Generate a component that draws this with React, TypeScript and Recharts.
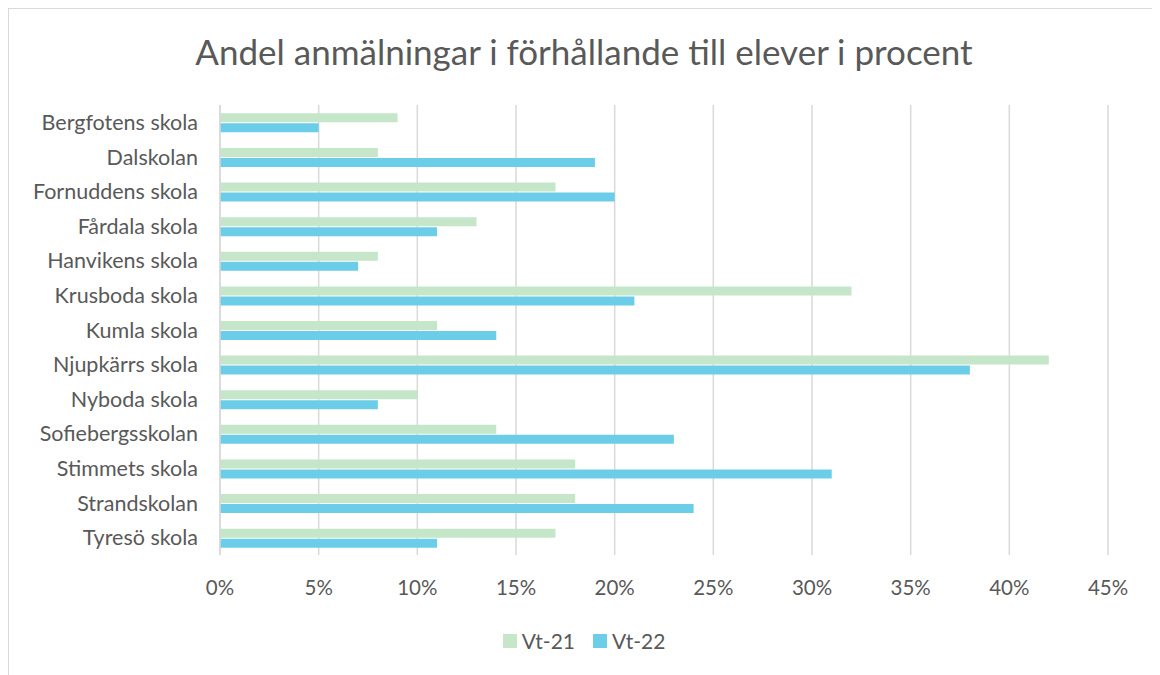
import React from "react";
import {
  Bar,
  BarChart,
  CartesianGrid,
  XAxis,
  YAxis,
} from "recharts";

const schools = [
  "Bergfotens skola",
  "Dalskolan",
  "Fornuddens skola",
  "Fårdala skola",
  "Hanvikens skola",
  "Krusboda skola",
  "Kumla skola",
  "Njupkärrs skola",
  "Nyboda skola",
  "Sofiebergsskolan",
  "Stimmets skola",
  "Strandskolan",
  "Tyresö skola",
];

const vt21 = [9, 8, 17, 13, 8, 32, 11, 42, 10, 14, 18, 18, 17];
const vt22 = [5, 19, 20, 11, 7, 21, 14, 38, 8, 23, 31, 24, 11];

const xTicks = [0, 5, 10, 15, 20, 25, 30, 35, 40, 45];

const GREEN = "#c5e6c9";
const BLUE = "#6bcde8";
const TEXT = "#595959";
const GRID = "#d9d9d9";
const FONT = "Lato, 'Open Sans', sans-serif";

const data = schools.map((name, i) => ({ name, vt21: vt21[i], vt22: vt22[i] }));

export default function App() {
  return (
    <div
      style={{
        position: "relative",
        width: 1150,
        height: 668,
        border: `1px solid ${GRID}`,
        background: "#fff",
        fontFamily: FONT,
      }}
    >
      <div
        style={{
          position: "absolute",
          top: 21,
          left: 0,
          width: 1150,
          textAlign: "center",
          fontSize: 35,
          color: TEXT,
          lineHeight: "42px",
        }}
      >
        Andel anmälningar i förhållande till elever i procent
      </div>
      <BarChart
        width={1150}
        height={600}
        layout="vertical"
        data={data}
        margin={{ top: 96, right: 51, bottom: 24, left: 0 }}
        barCategoryGap="24%"
        barGap={1}
      >
        <CartesianGrid horizontal={false} stroke={GRID} strokeWidth={1.5} />
        <XAxis
          type="number"
          domain={[0, 45]}
          ticks={xTicks}
          tickFormatter={(v) => `${v}%`}
          axisLine={false}
          tickLine={false}
          tickSize={0}
          tickMargin={25}
          height={30}
          tick={{ fill: TEXT, fontSize: 20.5, fontFamily: FONT }}
        />
        <YAxis
          type="category"
          dataKey="name"
          width={211}
          axisLine={{ stroke: GRID, strokeWidth: 1.5 }}
          tickLine={false}
          tickSize={0}
          tickMargin={22}
          interval={0}
          tick={{ fill: TEXT, fontSize: 21.5, fontFamily: FONT }}
        />
        <Bar dataKey="vt21" name="Vt-21" fill={GREEN} isAnimationActive={false} />
        <Bar dataKey="vt22" name="Vt-22" fill={BLUE} isAnimationActive={false} />
      </BarChart>
      <div
        style={{
          position: "absolute",
          top: 619,
          left: 0,
          width: 1150,
          display: "flex",
          justifyContent: "center",
          alignItems: "center",
          gap: 18,
          fontSize: 21,
          color: TEXT,
        }}
      >
        {[
          { label: "Vt-21", color: GREEN },
          { label: "Vt-22", color: BLUE },
        ].map((s) => (
          <div key={s.label} style={{ display: "flex", alignItems: "center", gap: 5 }}>
            <span style={{ width: 14, height: 14, background: s.color, display: "inline-block" }} />
            <span>{s.label}</span>
          </div>
        ))}
      </div>
    </div>
  );
}
